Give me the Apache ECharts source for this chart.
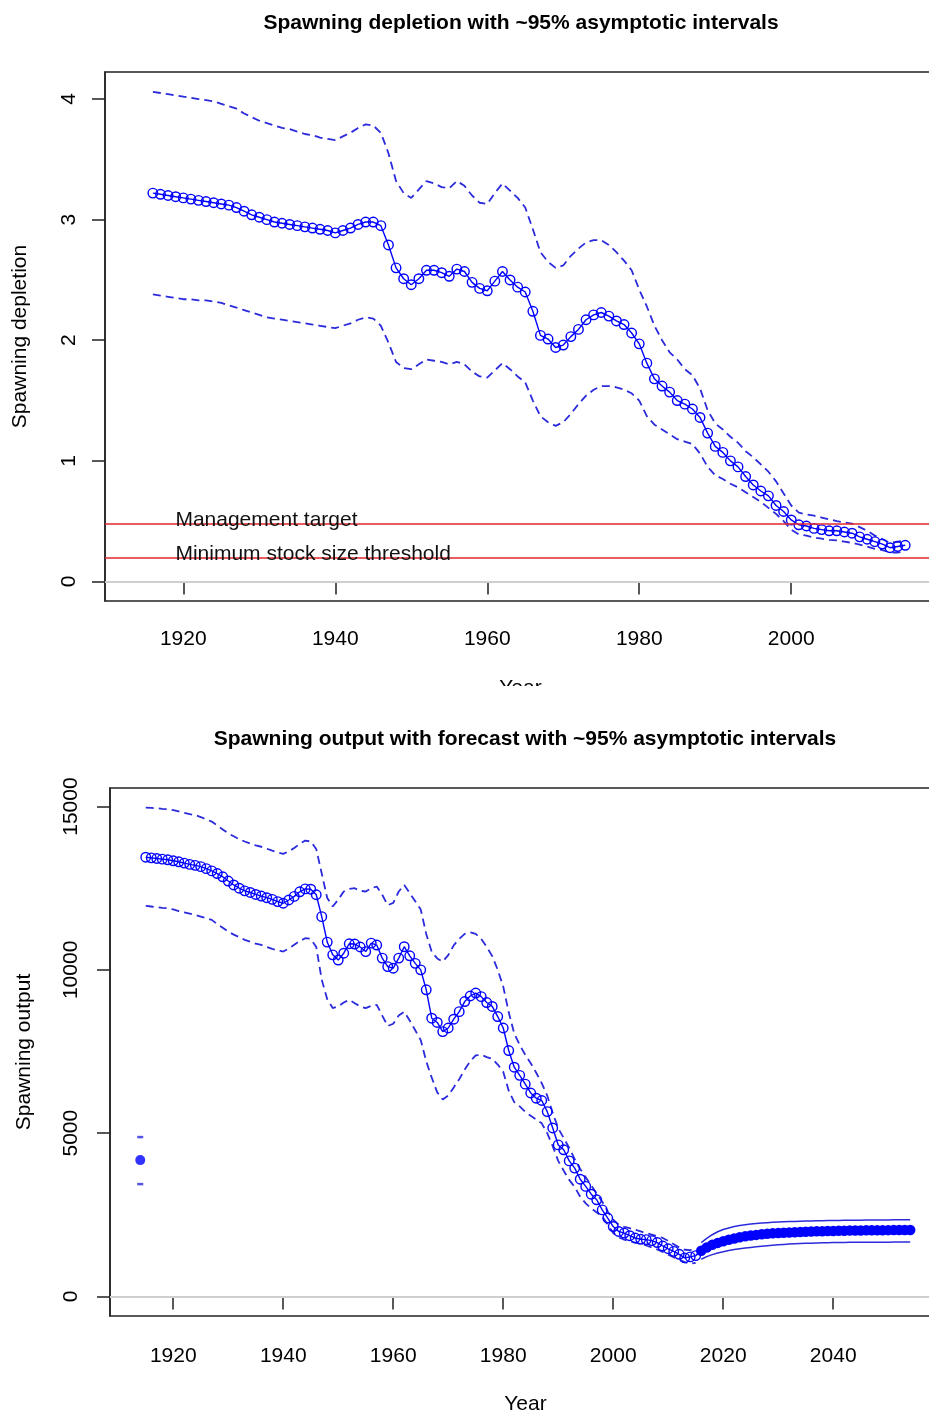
<!DOCTYPE html>
<html><head><meta charset="utf-8">
<script src="https://cdn.jsdelivr.net/npm/echarts@6/dist/echarts.min.js"></script>
<style>html,body{margin:0;padding:0;background:#fff}#c{width:929px;height:1414px}</style>
</head><body><div id="c"></div>
<script>
// ---------- Top chart: spawning depletion (1916-2015) ----------
const depStartYear = 1916;
const depCenter = [
  3.22,3.21,3.20,3.19,3.18,3.17,3.16,3.15,3.14,3.13,
  3.12,3.10,3.07,3.04,3.02,3.00,2.98,2.97,2.96,2.95,
  2.94,2.93,2.92,2.91,2.89,2.91,2.93,2.96,2.98,2.98,
  2.95,2.79,2.60,2.51,2.46,2.51,2.58,2.58,2.56,2.53,
  2.59,2.57,2.48,2.43,2.41,2.49,2.57,2.50,2.44,2.40,
  2.24,2.04,2.01,1.94,1.96,2.03,2.09,2.17,2.21,2.23,
  2.20,2.16,2.13,2.06,1.97,1.81,1.68,1.62,1.57,1.50,
  1.47,1.43,1.36,1.23,1.12,1.07,1.00,0.95,0.87,0.80,
  0.75,0.71,0.63,0.58,0.51,0.47,0.46,0.44,0.43,0.42,
  0.42,0.41,0.40,0.37,0.35,0.33,0.31,0.28,0.29,0.30
];
const depUpper = [
  4.06,4.05,4.04,4.03,4.02,4.01,4.00,3.99,3.98,3.96,
  3.94,3.92,3.88,3.85,3.82,3.80,3.78,3.76,3.75,3.73,
  3.71,3.70,3.68,3.67,3.66,3.69,3.72,3.76,3.79,3.78,
  3.72,3.55,3.32,3.22,3.18,3.25,3.32,3.30,3.27,3.26,
  3.32,3.28,3.20,3.14,3.13,3.22,3.30,3.24,3.18,3.10,
  2.92,2.73,2.65,2.60,2.62,2.70,2.76,2.81,2.83,2.83,
  2.79,2.73,2.66,2.58,2.42,2.28,2.12,2.00,1.90,1.84,
  1.76,1.71,1.60,1.42,1.31,1.26,1.20,1.15,1.08,1.03,
  0.97,0.91,0.83,0.73,0.63,0.57,0.555,0.545,0.53,0.515,
  0.50,0.49,0.48,0.45,0.42,0.38,0.35,0.32,0.33,0.34
];
const depLower = [
  2.38,2.37,2.36,2.35,2.34,2.34,2.33,2.33,2.32,2.31,
  2.29,2.27,2.25,2.23,2.21,2.19,2.18,2.17,2.16,2.15,
  2.14,2.13,2.12,2.11,2.10,2.12,2.14,2.17,2.19,2.18,
  2.12,1.98,1.82,1.77,1.76,1.80,1.84,1.83,1.82,1.80,
  1.82,1.80,1.74,1.70,1.69,1.75,1.81,1.76,1.70,1.65,
  1.50,1.37,1.32,1.29,1.32,1.39,1.47,1.54,1.59,1.62,
  1.62,1.61,1.59,1.56,1.50,1.37,1.30,1.26,1.22,1.18,
  1.16,1.14,1.06,0.95,0.88,0.85,0.81,0.78,0.74,0.70,
  0.66,0.61,0.56,0.50,0.43,0.39,0.38,0.365,0.355,0.345,
  0.34,0.33,0.32,0.305,0.29,0.27,0.26,0.24,0.24,0.25
];
const refLevels = [0.48, 0.2];
const refLabels = ['Management target', 'Minimum stock size threshold'];
const depXTicks = [1920, 1940, 1960, 1980, 2000];
const depYTicks = [0, 1, 2, 3, 4];

// ---------- Bottom chart: spawning output (1915-2015) + forecast (2016-2054) ----------
const ssbStartYear = 1915;
const ssbCenter = [
  13450,13430,13410,13390,13370,13340,13310,13270,13230,13200,
  13160,13100,13030,12950,12850,12720,12600,12500,12420,12370,
  12310,12260,12210,12160,12090,12040,12140,12250,12390,12480,
  12470,12300,11630,10850,10460,10300,10510,10800,10790,10700,
  10560,10820,10760,10360,10100,10050,10360,10710,10430,10200,
  10000,9390,8520,8390,8110,8220,8490,8720,9030,9200,
  9290,9180,9000,8880,8570,8220,7530,7020,6770,6500,
  6230,6070,6000,5660,5160,4640,4490,4150,3930,3590,
  3370,3130,2960,2650,2400,2140,1990,1940,1860,1790,
  1750,1740,1710,1650,1545,1460,1380,1290,1180,1210,1250
];
const ssbUpper = [
  14970,14960,14950,14930,14920,14890,14850,14810,14770,14740,
  14680,14610,14540,14420,14300,14180,14090,14000,13930,13870,
  13810,13770,13710,13650,13600,13550,13630,13730,13860,13960,
  13930,13700,12950,12200,11940,12150,12400,12480,12500,12420,
  12400,12500,12550,12300,11980,12050,12400,12600,12350,12100,
  11850,11100,10550,10350,10250,10450,10750,10950,11100,11150,
  11100,10950,10700,10420,10000,9490,8700,8050,7700,7400,
  7140,6850,6530,6150,5620,5150,4850,4550,4200,3900,
  3650,3400,3150,2900,2600,2350,2200,2130,2090,2040,
  1990,1940,1890,1840,1790,1700,1600,1500,1430,1420,1450
];
const ssbLower = [
  11960,11940,11920,11900,11890,11850,11800,11760,11720,11680,
  11630,11580,11530,11400,11290,11170,11080,11000,10920,10860,
  10800,10765,10700,10640,10600,10560,10650,10770,10880,10970,
  10950,10700,9700,9100,8830,8880,9000,9080,8980,8880,
  8830,8900,8930,8600,8280,8350,8600,8720,8450,8150,
  7850,7200,6700,6250,6030,6150,6400,6650,6950,7200,
  7380,7400,7330,7280,7100,6880,6300,5950,5820,5650,
  5530,5420,5300,5000,4600,4150,3850,3570,3350,3050,
  2850,2700,2570,2450,2200,1940,1810,1740,1690,1650,
  1620,1560,1500,1440,1360,1280,1200,1120,1050,1000,1030
];
const fcStartYear = 2016;
const fcCenter = [
  1400,1500,1580,1640,1690,1735,1775,1810,1840,1865,
  1885,1905,1920,1932,1942,1952,1960,1968,1975,1982,
  1988,1993,1998,2002,2006,2010,2013,2016,2019,2021,
  2023,2025,2027,2028,2030,2031,2032,2033,2034
];
const fcUpper = [
  1650,1780,1890,1980,2050,2095,2140,2170,2195,2215,
  2232,2247,2260,2270,2278,2285,2292,2298,2303,2308,
  2312,2316,2319,2322,2325,2328,2330,2332,2334,2336,
  2338,2340,2341,2342,2344,2345,2346,2347,2348
];
const fcLower = [
  1140,1220,1280,1330,1370,1405,1435,1460,1480,1500,
  1520,1540,1555,1570,1582,1592,1602,1610,1618,1625,
  1632,1637,1642,1646,1650,1653,1655,1657,1658,1659,
  1660,1661,1662,1663,1663,1664,1664,1664,1664
];
const virginYear = 1914;
const virginValue = 4175;
const virginUpper = 4880;
const virginLower = 3440;
const ssbXTicks = [1920, 1940, 1960, 1980, 2000, 2020, 2040];
const ssbYTicks = [0, 5000, 10000, 15000];

// ---------- build ----------
const FONT = '"Liberation Sans", Arial, sans-serif';
const FS = 21;
const BLUE = '#0000ff';
const DBLUE = '#2b2bdc';
const pairs = (start, arr) => arr.map((v, i) => [start + i, v]);

function axisCommon(ticks, margin, rotate) {
  return {
    axisLine: {show: true, lineStyle: {color: '#222', width: 1.5}},
    axisTick: {show: true, length: 13, customValues: ticks, lineStyle: {color: '#222', width: 1.5}},
    axisLabel: {customValues: ticks, margin: margin, rotate: rotate, fontSize: FS, color: '#000',
      fontFamily: FONT, formatter: v => String(v)},
    splitLine: {show: false}
  };
}

const dashed = (data, xi) => ({
  type: 'line', xAxisIndex: xi, yAxisIndex: xi, data: data, showSymbol: false, symbol: 'none',
  lineStyle: {color: DBLUE, width: 1.8, type: [8, 5]}, silent: true, z: 2
});

const chart = echarts.init(document.getElementById('c'), null, {renderer: 'canvas'});
chart.setOption({
  animation: false,
  backgroundColor: '#fff',
  textStyle: {fontFamily: FONT},
  title: [
    {text: 'Spawning depletion with ~95% asymptotic intervals', left: 516, top: 8, textAlign: 'center',
     textStyle: {fontSize: FS, fontWeight: 'bold', color: '#000', fontFamily: FONT}},
    {text: 'Spawning output with forecast with ~95% asymptotic intervals', left: 520, top: 724, textAlign: 'center',
     textStyle: {fontSize: FS, fontWeight: 'bold', color: '#000', fontFamily: FONT}}
  ],
  grid: [
    {left: 105, top: 72, width: 831, height: 529, show: true, borderColor: '#222', borderWidth: 1.5,
     containLabel: false, outerBoundsMode: 'none'},
    {left: 110, top: 788, width: 831, height: 528, show: true, borderColor: '#222', borderWidth: 1.5,
     containLabel: false, outerBoundsMode: 'none'}
  ],
  xAxis: [
    Object.assign({type: 'value', gridIndex: 0, min: 1909.7, max: 2019.05,
      name: 'Year', nameLocation: 'middle', nameGap: 77,
      nameTextStyle: {fontSize: FS, color: '#000', fontFamily: FONT}}, axisCommon(depXTicks, 28, 0)),
    Object.assign({type: 'value', gridIndex: 1, min: 1908.5, max: 2059.6,
      name: 'Year', nameLocation: 'middle', nameGap: 78,
      nameTextStyle: {fontSize: FS, color: '#000', fontFamily: FONT}}, axisCommon(ssbXTicks, 30, 0))
  ],
  yAxis: [
    Object.assign({type: 'value', gridIndex: 0, min: -0.162, max: 4.224,
      name: 'Spawning depletion', nameLocation: 'middle', nameGap: 74, nameRotate: 90,
      nameTextStyle: {fontSize: FS, color: '#000', fontFamily: FONT}}, axisCommon(depYTicks, 25, 90)),
    Object.assign({type: 'value', gridIndex: 1, min: -599, max: 15569,
      name: 'Spawning output', nameLocation: 'middle', nameGap: 75, nameRotate: 90,
      nameTextStyle: {fontSize: FS, color: '#000', fontFamily: FONT}}, axisCommon(ssbYTicks, 28, 90))
  ],
  series: [
    // top
    dashed(pairs(depStartYear, depUpper), 0),
    dashed(pairs(depStartYear, depLower), 0),
    {
      type: 'line', xAxisIndex: 0, yAxisIndex: 0, data: pairs(depStartYear, depCenter),
      symbol: 'circle', symbolSize: 9.5, showAllSymbol: true,
      itemStyle: {color: 'rgba(0,0,0,0)', borderColor: BLUE, borderWidth: 1.4},
      lineStyle: {color: BLUE, width: 1.4}, z: 3,
      markLine: {
        silent: true, symbol: ['none', 'none'], label: {show: false}, animation: false,
        data: [
          {yAxis: 0, lineStyle: {color: '#cfcfcf', width: 2, type: 'solid'}},
          {yAxis: refLevels[0], lineStyle: {color: '#e3262b', width: 1.6, type: 'solid'}},
          {yAxis: refLevels[1], lineStyle: {color: '#e3262b', width: 1.6, type: 'solid'}}
        ]
      },
      markPoint: {
        silent: true, animation: false,
        data: refLevels.map((lv, i) => ({
          coord: [1918.9, lv], symbol: 'circle', symbolSize: 1,
          itemStyle: {color: 'rgba(0,0,0,0)'},
          label: {show: true, position: 'right', distance: 0, offset: [0, -3],
            formatter: refLabels[i], fontSize: FS, color: '#111', fontFamily: FONT}
        }))
      }
    },
    // bottom
    dashed(pairs(ssbStartYear, ssbUpper), 1),
    dashed(pairs(ssbStartYear, ssbLower), 1),
    {
      type: 'line', xAxisIndex: 1, yAxisIndex: 1, data: pairs(ssbStartYear, ssbCenter),
      symbol: 'circle', symbolSize: 9.5, showAllSymbol: true,
      itemStyle: {color: 'rgba(0,0,0,0)', borderColor: BLUE, borderWidth: 1.4},
      lineStyle: {color: BLUE, width: 1.4}, z: 3,
      markLine: {
        silent: true, symbol: ['none', 'none'], label: {show: false}, animation: false,
        data: [{yAxis: 0, lineStyle: {color: '#cfcfcf', width: 2, type: 'solid'}}]
      }
    },
    {
      type: 'line', xAxisIndex: 1, yAxisIndex: 1, data: pairs(fcStartYear, fcUpper),
      showSymbol: false, symbol: 'none', lineStyle: {color: DBLUE, width: 1.5}, z: 2
    },
    {
      type: 'line', xAxisIndex: 1, yAxisIndex: 1, data: pairs(fcStartYear, fcLower),
      showSymbol: false, symbol: 'none', lineStyle: {color: DBLUE, width: 1.5}, z: 2
    },
    {
      type: 'line', xAxisIndex: 1, yAxisIndex: 1,
      data: [{value: [ssbStartYear + ssbCenter.length - 1, ssbCenter[ssbCenter.length - 1]], symbolSize: 0}]
        .concat(pairs(fcStartYear, fcCenter)),
      symbol: 'circle', symbolSize: 10.5, showAllSymbol: true,
      itemStyle: {color: BLUE}, lineStyle: {color: BLUE, width: 1.4}, z: 4
    },
    {
      type: 'scatter', xAxisIndex: 1, yAxisIndex: 1, data: [[virginYear, virginValue]],
      symbol: 'circle', symbolSize: 10, itemStyle: {color: BLUE}, z: 4
    },
    {
      type: 'scatter', xAxisIndex: 1, yAxisIndex: 1, data: [[virginYear, virginUpper], [virginYear, virginLower]],
      symbol: 'rect', symbolSize: [6, 2.5], itemStyle: {color: DBLUE}, z: 4
    }
  ],
  graphic: [
    // the top panel is cropped just under its x-axis title
    {type: 'rect', shape: {x: 0, y: 686, width: 929, height: 22}, style: {fill: '#fff'}, z: 100, silent: true}
  ]
});
</script>
</body></html>
